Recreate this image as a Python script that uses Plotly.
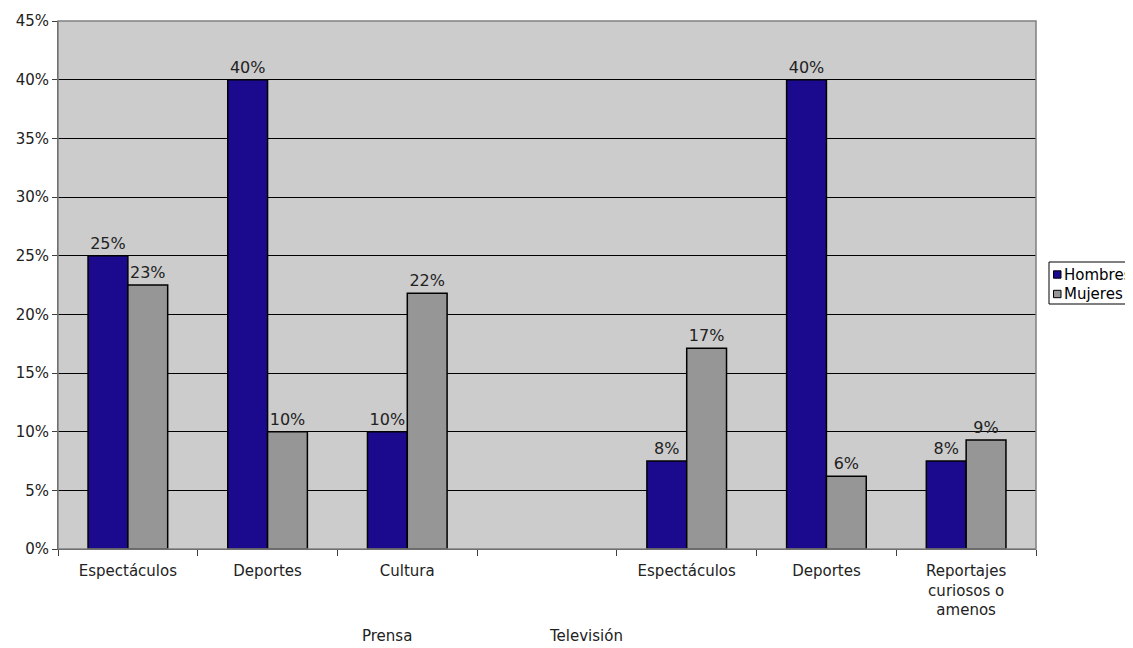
import plotly.graph_objects as go

categories = ["Espectáculos", "Deportes", "Cultura", "", "Espectáculos", "Deportes",
              "Reportajes<br>curiosos o<br>amenos"]
hombres = [25.0, 40.0, 10.0, None, 7.5, 40.0, 7.5]
mujeres = [22.5, 10.0, 21.8, None, 17.1, 6.2, 9.3]
hombres_labels = ["25%", "40%", "10%", "", "8%", "40%", "8%"]
mujeres_labels = ["23%", "10%", "22%", "", "17%", "6%", "9%"]
y_ticks = [0, 5, 10, 15, 20, 25, 30, 35, 40, 45]
groups = ["Prensa", "Televisión"]
series_names = ["Hombres", "Mujeres"]
series_colors = ["#1C0A8E", "#969696"]

xpos = list(range(len(categories)))
FONT = "DejaVu Sans"
TXT = "#222222"

# target plot area (screen px): x 58..1036, y 21..549 ; page body offsets the figure by 8px
PX0, PX1, PY0, PY1 = 58, 1036, 21, 549
OFF = 8
W, H = 1133, 648
ml, mt = PX0 - OFF, PY0 - OFF
mr = W - (PX1 - OFF)
mb = H - (PY1 - OFF)


def px(x):
    return (x - PX0) / (PX1 - PX0)


def py(y):
    return (PY1 - y) / (PY1 - PY0)


fig = go.Figure()
for name, vals, labs, col in zip(series_names, [hombres, mujeres],
                                 [hombres_labels, mujeres_labels], series_colors):
    fig.add_trace(go.Bar(
        name=name, x=xpos, y=vals, text=labs, showlegend=False,
        textposition="outside", cliponaxis=False,
        marker=dict(color=col, line=dict(color="#000000", width=1.5)),
        textfont=dict(family=FONT, size=16, color=TXT),
    ))

fig.update_layout(
    width=W, height=H,
    margin=dict(l=ml, r=mr, t=mt, b=mb, autoexpand=False),
    paper_bgcolor="white", plot_bgcolor="#CCCCCC",
    barmode="group", bargap=0.43, bargroupgap=0,
    font=dict(family=FONT, size=15, color=TXT),
    xaxis=dict(range=[-0.5, 6.5], tickmode="array", tickvals=xpos, ticktext=categories,
               ticks="", showgrid=False, zeroline=False, ticklabelstandoff=8,
               showline=True, linecolor="#404040", linewidth=1,
               tickfont=dict(family=FONT, size=15, color=TXT),
               minor=dict(ticks="outside", tick0=-0.5, dtick=1, ticklen=6,
                          tickcolor="#404040", showgrid=False)),
    yaxis=dict(range=[0, 45], tickmode="array", tickvals=y_ticks,
               ticktext=[f"{v}%" for v in y_ticks],
               ticks="outside", ticklen=5, tickcolor="#404040",
               showgrid=True, gridcolor="#000000", gridwidth=1,
               zeroline=False, showline=True, linecolor="#404040", linewidth=1,
               tickfont=dict(family=FONT, size=15, color=TXT)),
)

shapes = [dict(type="rect", xref="paper", yref="paper", x0=0, x1=1, y0=0, y1=1,
               line=dict(color="#808080", width=1.5), layer="above")]

# legend (drawn as box + swatches + text, cut at the page's right edge like the original)
shapes.append(dict(type="rect", xref="paper", yref="paper",
                   x0=px(1049), x1=px(1160), y0=py(304), y1=py(262),
                   line=dict(color="#000000", width=1), fillcolor="white"))
for i, (name, col) in enumerate(zip(series_names, series_colors)):
    yc = 274.5 + i * 19.5
    shapes.append(dict(type="rect", xref="paper", yref="paper",
                       x0=px(1053.5), x1=px(1061), y0=py(yc + 3.7), y1=py(yc - 3.7),
                       line=dict(color="#000000", width=1), fillcolor=col))
    fig.add_annotation(text=name, xref="paper", yref="paper", x=px(1062), y=py(yc),
                       xanchor="left", yanchor="middle", showarrow=False,
                       font=dict(family=FONT, size=15, color="#000000"))
fig.update_layout(shapes=shapes)

group_x = [387, 586]
for g, gx in zip(groups, group_x):
    fig.add_annotation(text=g, xref="paper", yref="paper", x=px(gx), y=py(636),
                       xanchor="center", yanchor="middle", showarrow=False,
                       font=dict(family=FONT, size=15, color=TXT))

fig.write_html("out.html")
